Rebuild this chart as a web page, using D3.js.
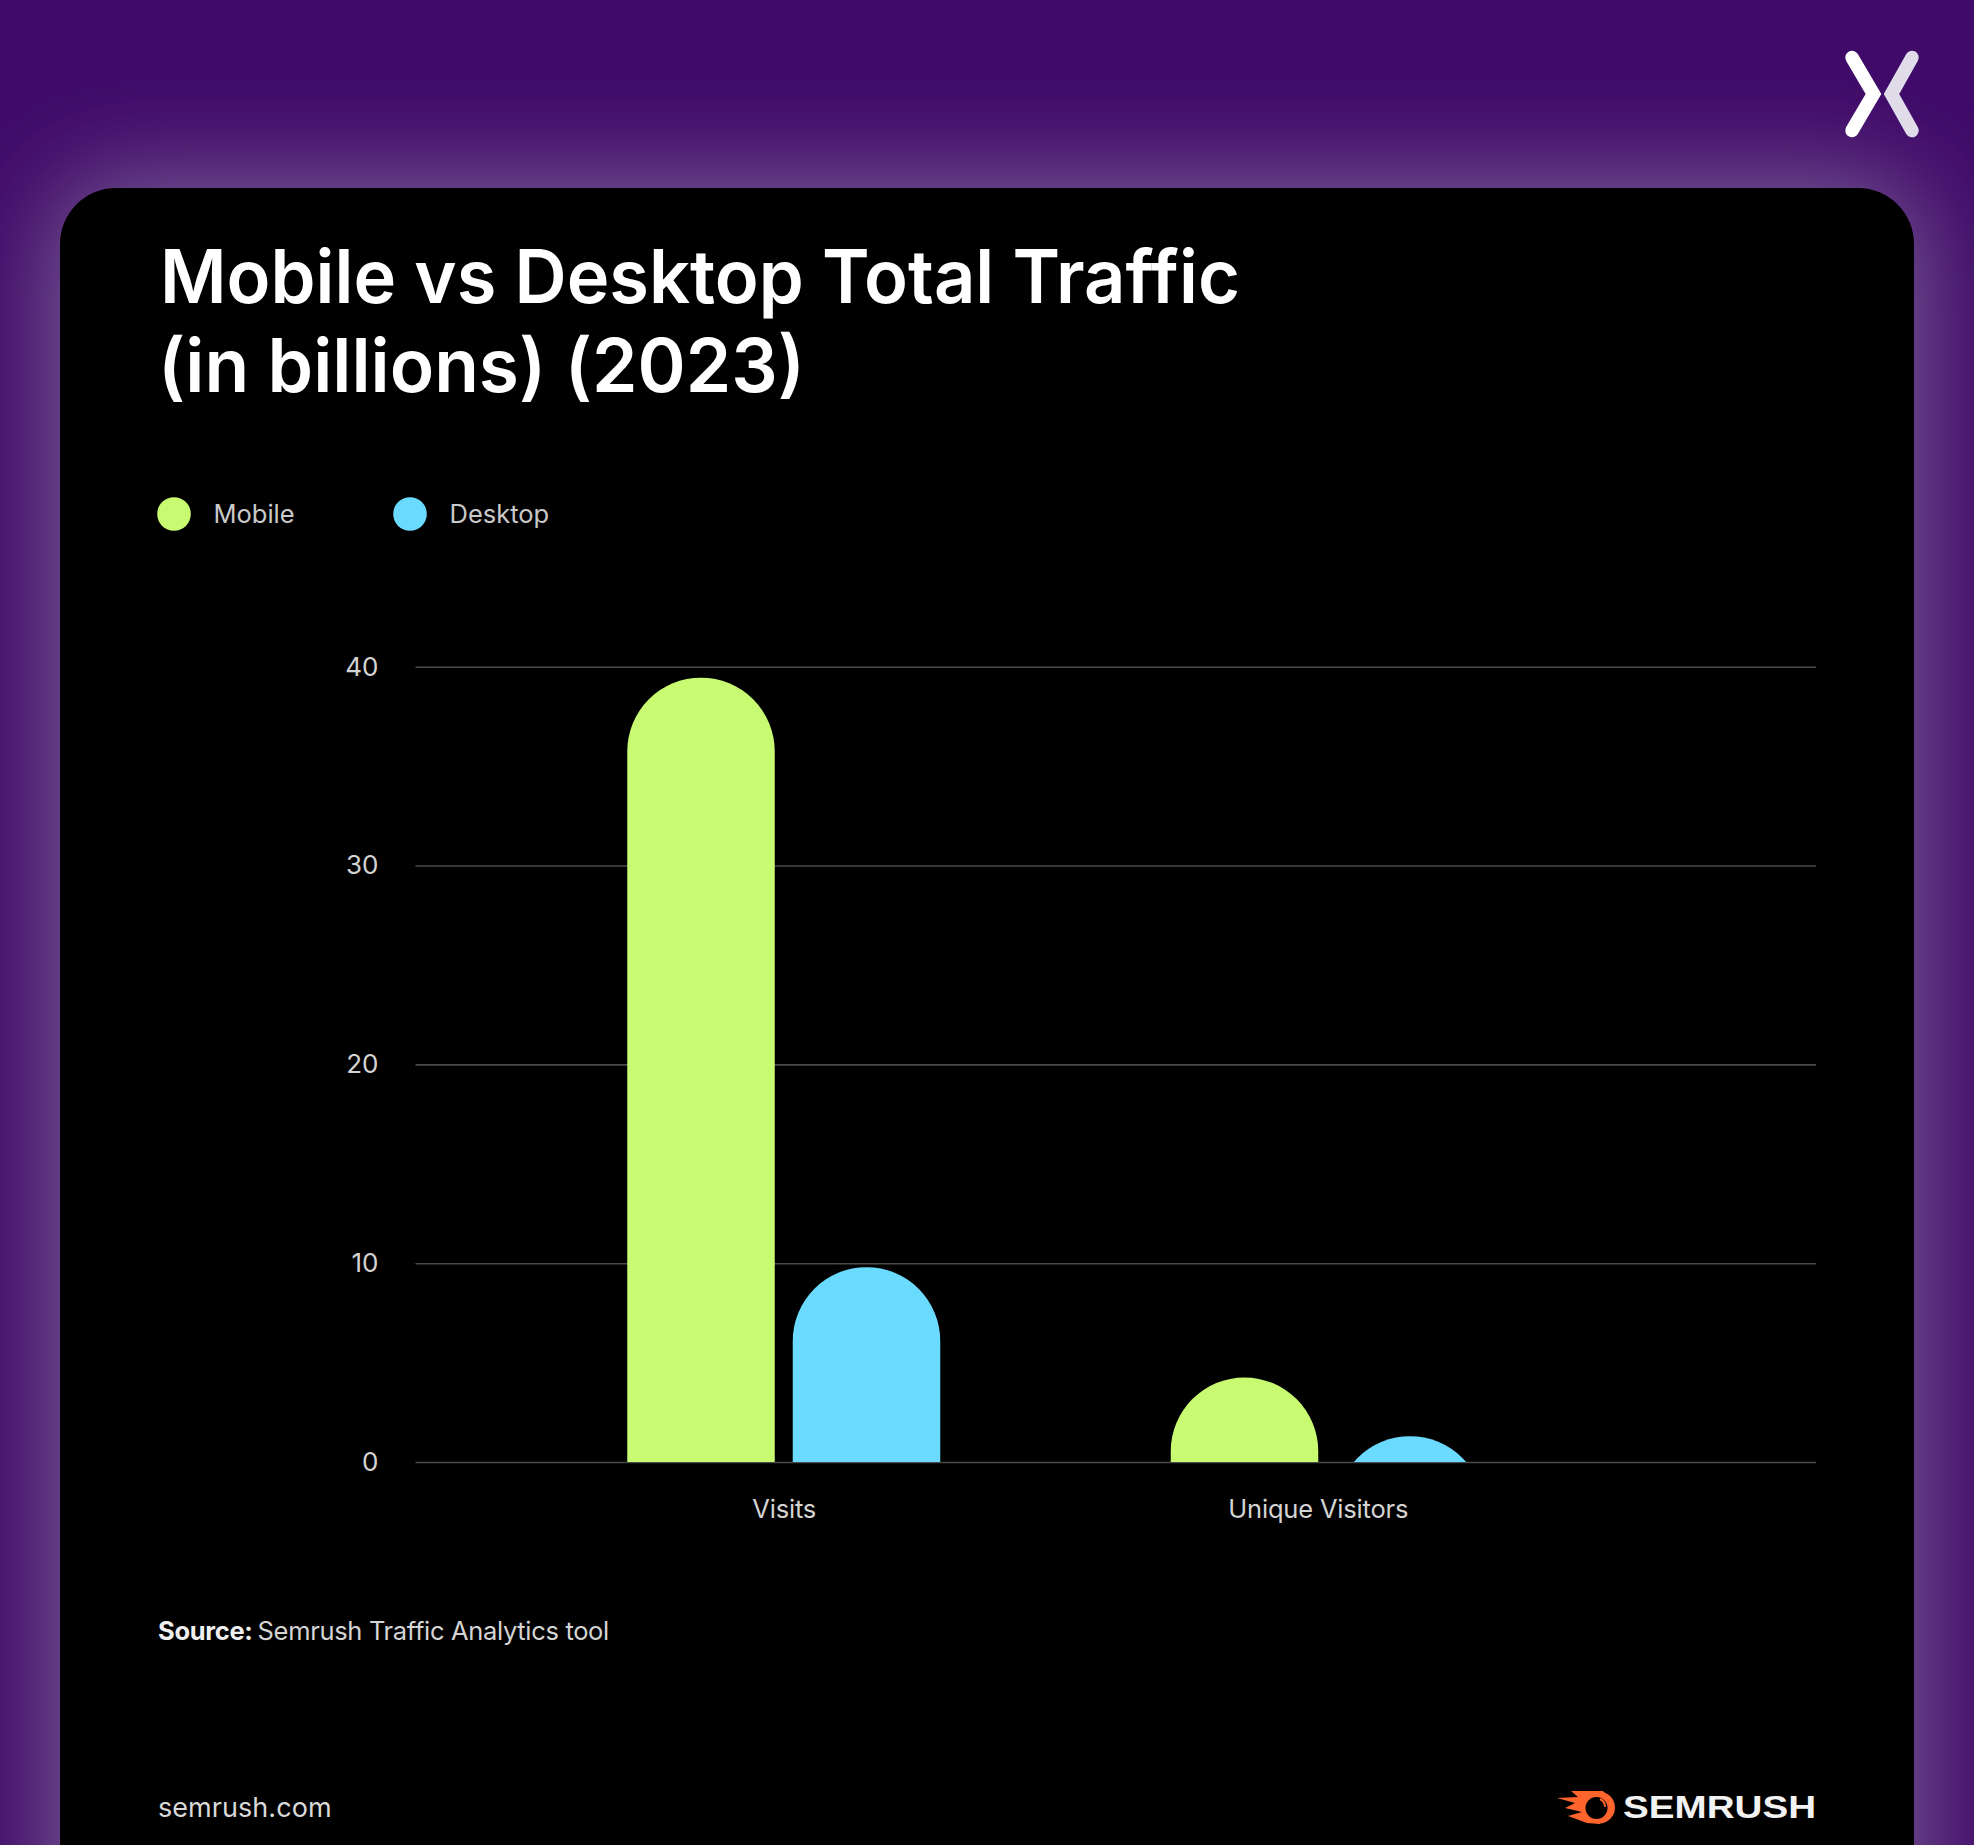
<!DOCTYPE html>
<html><head><meta charset="utf-8">
<style>html,body{margin:0;padding:0;background:#3f0a68;overflow:hidden}svg{display:block}</style>
<script src="https://cdn.jsdelivr.net/npm/d3@7/dist/d3.min.js"></script>
</head><body><div id="c"></div>
<script>
const categories = ["Visits", "Unique Visitors"];
const seriesNames = ["Mobile", "Desktop"];
const mobile = [39.45, 4.25];
const desktop = [9.8, 1.3];
const yTicks = [0, 10, 20, 30, 40];
const colors = ["#c8fb72", "#6bdaff"];
const titleLines = ["Mobile vs Desktop Total Traffic", "(in billions) (2023)"];

const W = 1974, H = 1845;
const svg = d3.select("#c").append("svg").attr("width", W).attr("height", H);
const defs = svg.append("defs");
defs.append("filter").attr("id","glow").attr("x","-20%").attr("y","-20%").attr("width","140%").attr("height","140%")
  .append("feGaussianBlur").attr("stdDeviation", 52);

svg.append("rect").attr("width",W).attr("height",H).attr("fill","#3f0a68");
const card = {x:60,y:188,w:1854,h:1800,r:56};
svg.append("rect").attr("x",card.x-8).attr("y",card.y-8).attr("width",card.w+16).attr("height",card.h+16).attr("rx",card.r)
  .attr("fill","#7e6098").attr("filter","url(#glow)");
svg.append("rect").attr("x",card.x).attr("y",card.y).attr("width",card.w).attr("height",card.h).attr("rx",card.r).attr("fill","#000");

// corner mark
const mark = svg.append("g").attr("fill","none").attr("stroke-width",13.5).attr("stroke-linecap","round").attr("stroke-linejoin","miter");
mark.append("path").attr("d","M1912 57.5 L1891.5 94 L1912 130.5").attr("stroke","#e0dcea");
mark.append("path").attr("d","M1852 57.5 L1873.5 94 L1852 130.5").attr("stroke","#ffffff");

// title
const title = svg.append("g").attr("fill","#fff").style("font-family","Inter").style("font-weight",600).style("font-size","74px");
const titleX = [160, 158];
const titleWidths = [1080, 647];
titleLines.forEach((t,i)=>title.append("text").attr("x",titleX[i]).attr("y",303+i*89)
  .attr("textLength",titleWidths[i]).attr("lengthAdjust","spacingAndGlyphs").text(t));

// legend
const legendX = [174, 410];
seriesNames.forEach((s,i)=>{
  svg.append("circle").attr("cx",legendX[i]).attr("cy",514).attr("r",16.8).attr("fill",colors[i]);
  svg.append("text").attr("x",legendX[i]+39.5).attr("y",523).attr("fill","#c9c9c9")
    .style("font-family","Inter").style("font-size","25.5px").text(s);
});

// scales
const plot = {l:415.5, r:1816, t:666.7, b:1462};
const y = d3.scaleLinear().domain([0,40]).range([plot.b,plot.t]);
const x0 = d3.scaleBand().domain(categories).range([512,1599]);
const barW = 147.5, pitch = 165.5;
const x1 = d3.scaleOrdinal().domain(seriesNames).range([-(pitch+barW)/2, -(pitch+barW)/2+pitch]);

// grid + y axis
const gy = svg.append("g").attr("transform",`translate(${plot.l},0)`)
  .call(d3.axisLeft(y).tickValues(yTicks).tickSize(-(plot.r-plot.l)).tickPadding(37));
gy.select(".domain").remove();
gy.selectAll(".tick line").attr("stroke","#4a4a4a").attr("stroke-width",1.6);
gy.selectAll(".tick text").attr("fill","#d4d4d4").style("font-family","Inter").style("font-size","26px");

// bars clipped at the baseline
defs.append("clipPath").attr("id","plotclip").append("rect").attr("x",plot.l).attr("y",plot.t-20).attr("width",plot.r-plot.l).attr("height",plot.b-plot.t+20);
const barsG = svg.append("g").attr("clip-path","url(#plotclip)");
[mobile,desktop].forEach((vals,si)=>{
  barsG.selectAll(null).data(vals.map((v,i)=>({v,c:categories[i]}))).join("rect")
    .attr("x",d=>x0(d.c)+x0.bandwidth()/2+x1(seriesNames[si]))
    .attr("y",d=>y(d.v))
    .attr("width",barW)
    .attr("height",d=>plot.b-y(d.v)+barW)
    .attr("rx",barW/2)
    .attr("fill",colors[si]);
});

// x labels
const labelShift = [0.5,-9];
categories.forEach((c,i)=>{
  svg.append("text").attr("x",x0(c)+x0.bandwidth()/2+labelShift[i]).attr("y",1518).attr("text-anchor","middle")
    .attr("fill","#d4d4d4").style("font-family","Inter").style("font-size","25.5px").style("letter-spacing","-0.2px").text(c);
});

// source
const src = svg.append("text").attr("x",158).attr("y",1640).attr("fill","#d4d4d4").style("font-family","Inter").style("font-size","25.5px");
src.append("tspan").style("font-weight",700).attr("fill","#f0f0f0").style("letter-spacing","-0.3px").text("Source:");
src.append("tspan").attr("dx",5).style("letter-spacing","-0.33px").text("Semrush Traffic Analytics tool");

// footer
svg.append("text").attr("x",158).attr("y",1816.5).attr("fill","#d9d9d9").style("font-family","Inter").style("font-size","27px").style("letter-spacing","0.05px").text("semrush.com");
const logo = svg.append("g");
logo.append("path").attr("fill","#ff642d")
  .attr("d","M1557 1798 L1578 1797 L1571 1791 L1603 1791 L1610 1800 L1600 1824 L1587 1823 L1568 1816 L1582 1812 L1565 1808 L1575 1803 Z");
logo.append("circle").attr("cx",1599).attr("cy",1807.5).attr("r",16).attr("fill","#ff642d");
logo.append("circle").attr("cx",1596.5).attr("cy",1808).attr("r",11).attr("fill","#000");
logo.append("path").attr("d","M1600 1799 A9 9 0 0 1 1605 1807").attr("fill","none").attr("stroke","#ff642d").attr("stroke-width",2);
logo.append("text").attr("x",1623).attr("y",1818).attr("fill","#f2f2f2").style("font-family","Liberation Sans").style("font-weight",700).style("font-size","31px").attr("textLength",193).attr("lengthAdjust","spacingAndGlyphs").text("SEMRUSH");
</script></body></html>
